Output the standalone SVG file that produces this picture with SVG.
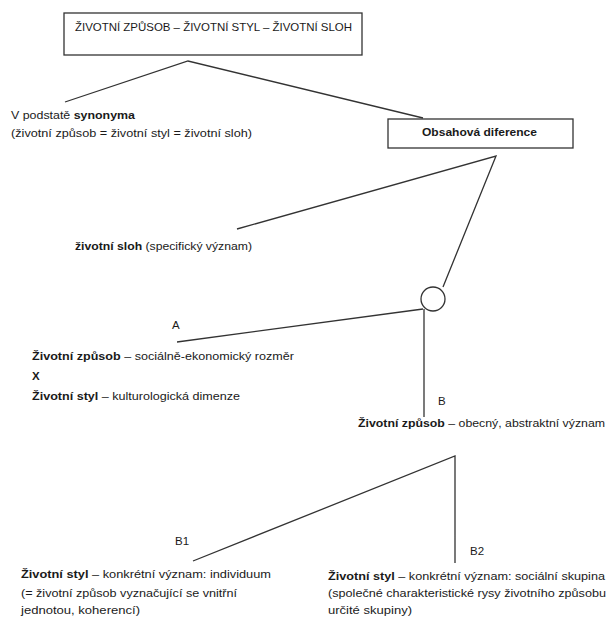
<svg xmlns="http://www.w3.org/2000/svg" width="607" height="624" viewBox="0 0 607 624">
<style>
text{font-family:"Liberation Sans","DejaVu Sans",sans-serif;font-size:11.5px;fill:#1a1a1a}
.b{font-weight:bold}
.box{fill:#fff;stroke:#333;stroke-width:1.3}
.ln{fill:none;stroke:#333;stroke-width:1.3}
</style>
<rect width="607" height="624" fill="#fff"/>
<g id="connectors">
<polyline class="ln" points="65,102 188,61 423,118"/>
<polyline class="ln" points="237,229 496,156 443,287"/>
<line class="ln" x1="423" y1="309" x2="177" y2="342"/>
<line class="ln" x1="424" y1="309" x2="424" y2="417"/>
<polyline class="ln" points="193,561 455,456 455,563"/>
</g>
<g id="top">
<rect class="box" x="64" y="13" width="298" height="42"/>
<text x="75" y="31" textLength="277" lengthAdjust="spacingAndGlyphs">ŽIVOTNÍ ZPŮSOB – ŽIVOTNÍ STYL – ŽIVOTNÍ SLOH</text>
</g>
<g id="synonyma">
<text x="11" y="119" textLength="124" lengthAdjust="spacingAndGlyphs">V podstatě <tspan class="b">synonyma</tspan></text>
<text x="11" y="137" textLength="241" lengthAdjust="spacingAndGlyphs">(životní způsob = životní styl = životní sloh)</text>
</g>
<g id="diference">
<rect class="box" x="388" y="119" width="185" height="29"/>
<text class="b" x="422" y="136" textLength="115" lengthAdjust="spacingAndGlyphs">Obsahová diference</text>
</g>
<g id="sloh">
<text x="75" y="250" textLength="177" lengthAdjust="spacingAndGlyphs"><tspan class="b">životní sloh</tspan> (specifický význam)</text>
</g>
<g id="circle">
<circle class="box" cx="433" cy="299" r="12"/>
</g>
<g id="A">
<text x="172" y="329">A</text>
<text x="32" y="360" textLength="262" lengthAdjust="spacingAndGlyphs"><tspan class="b">Životní způsob</tspan> – sociálně-ekonomický rozměr</text>
<text class="b" x="32" y="380">X</text>
<text x="32" y="400" textLength="208" lengthAdjust="spacingAndGlyphs"><tspan class="b">Životní styl</tspan> – kulturologická dimenze</text>
</g>
<g id="B">
<text x="438" y="405">B</text>
<text x="358" y="427" textLength="247" lengthAdjust="spacingAndGlyphs"><tspan class="b">Životní způsob</tspan> – obecný,  abstraktní význam</text>
</g>
<g id="B1">
<text x="175" y="545">B1</text>
<text x="21" y="578" textLength="250" lengthAdjust="spacingAndGlyphs"><tspan class="b">Životní styl</tspan> – konkrétní význam: individuum</text>
<text x="21" y="597" textLength="216" lengthAdjust="spacingAndGlyphs">(= životní způsob vyznačující se vnitřní</text>
<text x="21" y="614" textLength="119" lengthAdjust="spacingAndGlyphs">jednotou, koherencí)</text>
</g>
<g id="B2">
<text x="470" y="555">B2</text>
<text x="328" y="580" textLength="277" lengthAdjust="spacingAndGlyphs"><tspan class="b">Životní styl</tspan> – konkrétní význam: sociální skupina</text>
<text x="328" y="597" textLength="278" lengthAdjust="spacingAndGlyphs">(společné charakteristické rysy životního způsobu</text>
<text x="328" y="614" textLength="84" lengthAdjust="spacingAndGlyphs">určité skupiny)</text>
</g>
</svg>
